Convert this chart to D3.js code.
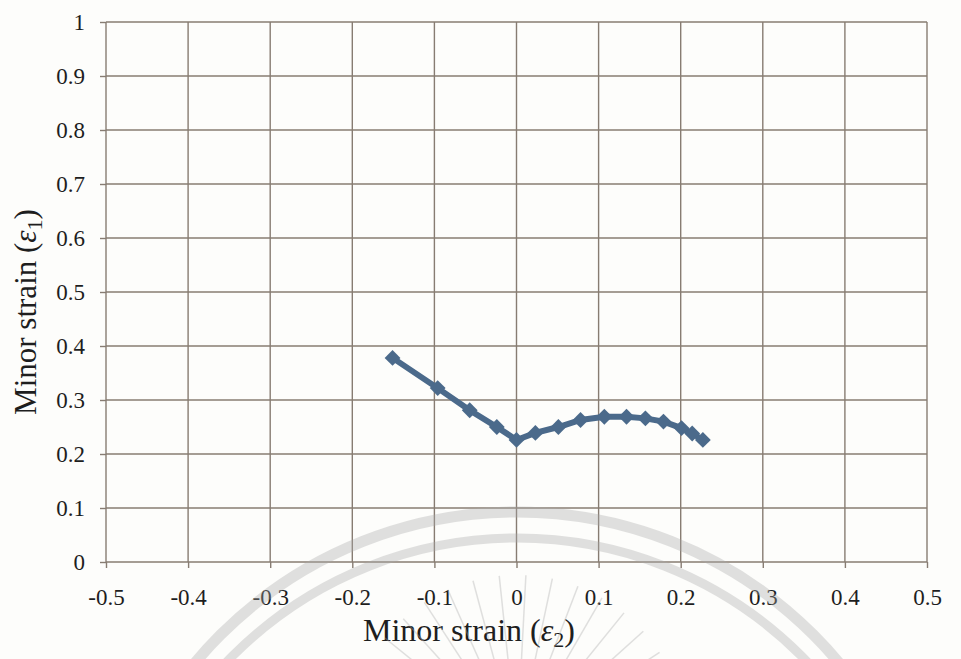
<!DOCTYPE html>
<html>
<head>
<meta charset="utf-8">
<script src="https://cdn.jsdelivr.net/npm/d3@7"></script>
<style>
  body { margin: 0; background: #fdfdfb; }
  svg { display: block; }
</style>
</head>
<body>
<div id="chart"></div>
<script>
// minor strain e2 (x) and e1 (y)
const strainX = [-0.151, -0.096, -0.057, -0.024, 0.0, 0.023, 0.051, 0.078, 0.107, 0.134, 0.157, 0.179, 0.201, 0.214, 0.227];
const strainY = [0.378, 0.322, 0.281, 0.25, 0.226, 0.239, 0.25, 0.263, 0.269, 0.269, 0.266, 0.26, 0.248, 0.238, 0.226];
const xTicks = [-0.5, -0.4, -0.3, -0.2, -0.1, 0, 0.1, 0.2, 0.3, 0.4, 0.5];
const yTicks = [0, 0.1, 0.2, 0.3, 0.4, 0.5, 0.6, 0.7, 0.8, 0.9, 1];

const config = {
  width: 961,
  height: 659,
  margin: { top: 22, right: 34, bottom: 97, left: 106 },
  gridColor: "#877c72",
  lineColor: "#4b6a8b",
  textColor: "#1e1e1e",
  font: "'Liberation Serif', 'Times New Roman', serif",
};

const data = strainX.map((x, i) => ({ x: x, y: strainY[i] }));

const svg = d3
  .select("#chart")
  .append("svg")
  .attr("width", config.width)
  .attr("height", config.height);

const innerW = config.width - config.margin.left - config.margin.right;
const innerH = config.height - config.margin.top - config.margin.bottom;

const x = d3.scaleLinear().domain([-0.5, 0.5]).range([config.margin.left, config.margin.left + innerW]);
const y = d3.scaleLinear().domain([0, 1]).range([config.margin.top + innerH, config.margin.top]);

const fmt = (d) => String(d);

// gridlines
const grid = svg.append("g");
grid
  .selectAll(".vgrid")
  .data(xTicks)
  .enter()
  .append("line")
  .attr("x1", (d) => x(d))
  .attr("x2", (d) => x(d))
  .attr("y1", y(0))
  .attr("y2", y(1))
  .attr("stroke", config.gridColor)
  .attr("stroke-width", 1.4);
grid
  .selectAll(".hgrid")
  .data(yTicks)
  .enter()
  .append("line")
  .attr("x1", x(-0.5))
  .attr("x2", x(0.5))
  .attr("y1", (d) => y(d))
  .attr("y2", (d) => y(d))
  .attr("stroke", config.gridColor)
  .attr("stroke-width", 1.4);

// axes
const xAxis = d3.axisBottom(x).tickValues(xTicks).tickFormat(fmt).tickSize(6).tickPadding(21);
const yAxis = d3.axisLeft(y).tickValues(yTicks).tickFormat(fmt).tickSize(6).tickPadding(15);

const gx = svg.append("g").attr("transform", `translate(0, ${y(0)})`).call(xAxis);
const gy = svg.append("g").attr("transform", `translate(${x(-0.5)}, 0)`).call(yAxis);
[gx, gy].forEach((g) => {
  g.attr("font-family", config.font).attr("font-size", 23);
  g.selectAll("text").attr("fill", config.textColor);
  g.selectAll("path, line").attr("stroke", config.gridColor).attr("stroke-width", 1.4);
  g.select(".domain").remove();
});

// data line and diamond markers
const line = d3.line().x((d) => x(d.x)).y((d) => y(d.y));
svg
  .append("path")
  .datum(data)
  .attr("d", line)
  .attr("fill", "none")
  .attr("stroke", config.lineColor)
  .attr("stroke-width", 6);

const diamond = d3.symbol().type(d3.symbolSquare).size(125);
svg
  .append("g")
  .selectAll("path")
  .data(data)
  .enter()
  .append("path")
  .attr("d", diamond)
  .attr("transform", (d) => `translate(${x(d.x)}, ${y(d.y)}) rotate(45)`)
  .attr("fill", config.lineColor);

// axis titles
const xTitle = svg
  .append("text")
  .attr("x", 469)
  .attr("y", 641)
  .attr("text-anchor", "middle")
  .style("font-family", config.font)
  .style("font-size", "32px")
  .attr("fill", config.textColor);
xTitle.append("tspan").text("Minor strain (");
xTitle.append("tspan").style("font-style", "italic").text("ε");
xTitle.append("tspan").attr("dy", 6).style("font-size", "22px").text("2");
xTitle.append("tspan").attr("dy", -6).text(")");

const yTitle = svg
  .append("text")
  .attr("transform", "translate(36, 312) rotate(-90)")
  .attr("text-anchor", "middle")
  .style("font-family", config.font)
  .style("font-size", "31px")
  .attr("fill", config.textColor);
yTitle.append("tspan").text("Minor strain (");
yTitle.append("tspan").style("font-style", "italic").text("ε");
yTitle.append("tspan").attr("dy", 6).style("font-size", "22px").text("1");
yTitle.append("tspan").attr("dy", -6).text(")");

// faint watermark arcs and rays at the bottom
const mark = svg.append("g").attr("opacity", 0.35).attr("fill", "none").attr("stroke", "#a9a9a9");
mark.append("circle").attr("cx", 517).attr("cy", 931).attr("r", 419).attr("stroke-width", 11);
mark.append("circle").attr("cx", 517).attr("cy", 940).attr("r", 402).attr("stroke-width", 9);
d3.range(-168, -10, 9).forEach((a) => {
  const r = (a * Math.PI) / 180;
  mark
    .append("line")
    .attr("x1", 517 + 70 * Math.cos(r))
    .attr("y1", 745 + 70 * Math.sin(r))
    .attr("x2", 517 + 170 * Math.cos(r))
    .attr("y2", 745 + 170 * Math.sin(r))
    .attr("stroke-width", 1.5);
});
</script>
</body>
</html>
